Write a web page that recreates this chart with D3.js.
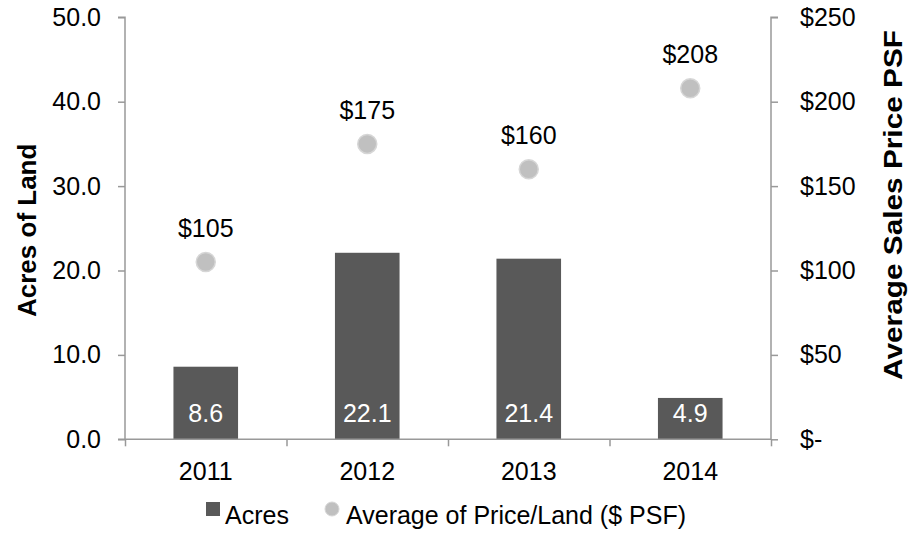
<!DOCTYPE html>
<html>
<head>
<meta charset="utf-8">
<script src="https://cdn.jsdelivr.net/npm/d3@7"></script>
<style>
  html, body { margin: 0; padding: 0; background: #fff; }
  svg { display: block; font-family: "Liberation Sans", Arial, sans-serif; }
</style>
</head>
<body>
<svg id="chart" width="915" height="540"></svg>
<script>
// Land sales by year: acreage (bars, left axis) and average price per square foot (dots, right axis)
const years = ["2011", "2012", "2013", "2014"];
const acres = [8.6, 22.1, 21.4, 4.9];
const pricePsf = [105, 175, 160, 208];
const leftTicks = [0, 10, 20, 30, 40, 50];
const rightTicks = [0, 50, 100, 150, 200, 250];

const svg = d3.select("#chart");
const plotLeft = 125, plotRight = 771, plotTop = 17.3, plotBottom = 439.3;
const axisColor = "#999";
const barColor = "#595959";
const dotColor = "#c0c0c0";

const x = d3.scaleBand().domain(years).range([plotLeft, plotRight]).paddingInner(0.6).paddingOuter(0.3);
const yL = d3.scaleLinear().domain([0, 50]).range([plotBottom, plotTop]);
const yR = d3.scaleLinear().domain([0, 250]).range([plotBottom, plotTop]);
const xEdge = d3.scaleLinear().domain([0, years.length]).range([plotLeft, plotRight]);

// Bars
svg.append("g").selectAll("rect").data(years).join("rect")
  .attr("x", d => x(d))
  .attr("width", x.bandwidth())
  .attr("y", (d, i) => yL(acres[i]))
  .attr("height", (d, i) => yL(0) - yL(acres[i]))
  .attr("fill", barColor);

// Value labels inside bars
svg.append("g").selectAll("text").data(years).join("text")
  .attr("x", d => x(d) + x.bandwidth() / 2)
  .attr("y", plotBottom - 17.5)
  .attr("text-anchor", "middle")
  .attr("font-size", 25)
  .attr("fill", "#fff")
  .text((d, i) => acres[i].toFixed(1));

// Left axis
const axL = svg.append("g").attr("transform", `translate(${plotLeft},0)`)
  .call(d3.axisLeft(yL).tickValues(leftTicks).tickSize(7).tickPadding(17).tickFormat(d3.format(".1f")));
// Right axis
const axR = svg.append("g").attr("transform", `translate(${plotRight},0)`)
  .call(d3.axisRight(yR).tickValues(rightTicks).tickSize(7).tickPadding(22)
    .tickFormat(d => d === 0 ? "$-" : "$" + d));
// Bottom axis: ticks on category boundaries
const axB = svg.append("g").attr("transform", `translate(0,${plotBottom})`)
  .call(d3.axisBottom(xEdge).tickValues(d3.range(years.length + 1)).tickSize(7).tickFormat(""));

[axL, axR, axB].forEach(g => {
  g.selectAll("path.domain").attr("stroke", axisColor).attr("stroke-width", 1.5);
  g.selectAll(".tick line").attr("stroke", axisColor).attr("stroke-width", 1.5);
  g.selectAll(".tick text").attr("font-size", 25).attr("fill", "#000")
    .attr("font-family", "'Liberation Sans', Arial, sans-serif");
});
axL.select("path.domain").attr("d", `M-7,${plotTop}H0V${plotBottom}`);
axR.select("path.domain").attr("d", `M7,${plotTop}H0V${plotBottom}`);
axB.select("path.domain").attr("d", `M${plotLeft - 7},0H${plotRight}`);

// Category labels
svg.append("g").selectAll("text").data(years).join("text")
  .attr("x", d => x(d) + x.bandwidth() / 2)
  .attr("y", 480)
  .attr("text-anchor", "middle")
  .attr("font-size", 25)
  .text(d => d);

// Price dots with soft edge
const dots = svg.append("g");
dots.selectAll("circle").data(years).join("circle")
  .attr("cx", d => x(d) + x.bandwidth() / 2)
  .attr("cy", (d, i) => yR(pricePsf[i]))
  .attr("r", 9.5)
  .attr("fill", dotColor)
  .attr("stroke", "#d6d6d6")
  .attr("stroke-width", 1.5);

dots.selectAll("text").data(years).join("text")
  .attr("x", d => x(d) + x.bandwidth() / 2)
  .attr("y", (d, i) => yR(pricePsf[i]) - 25)
  .attr("text-anchor", "middle")
  .attr("font-size", 25)
  .text((d, i) => "$" + pricePsf[i]);

// Axis titles
svg.append("text")
  .attr("transform", `translate(36,${(plotTop + plotBottom) / 2 + 2}) rotate(-90)`)
  .attr("text-anchor", "middle")
  .attr("font-size", 26)
  .attr("font-weight", "bold")
  .text("Acres of Land");

svg.append("text")
  .attr("transform", `translate(902,205) rotate(-90)`)
  .attr("text-anchor", "middle")
  .attr("font-size", 26)
  .attr("font-weight", "bold")
  .attr("textLength", 350)
  .attr("lengthAdjust", "spacingAndGlyphs")
  .text("Average Sales Price PSF");

// Legend
const lg = svg.append("g");
lg.append("rect").attr("x", 206).attr("y", 502).attr("width", 14).attr("height", 14).attr("fill", barColor);
lg.append("text").attr("x", 225).attr("y", 524).attr("font-size", 25).text("Acres");
lg.append("circle").attr("cx", 332).attr("cy", 509).attr("r", 7).attr("fill", dotColor)
  .attr("stroke", "#d6d6d6").attr("stroke-width", 1);
lg.append("text").attr("x", 346).attr("y", 524).attr("font-size", 25).text("Average of Price/Land ($ PSF)");
</script>
</body>
</html>
